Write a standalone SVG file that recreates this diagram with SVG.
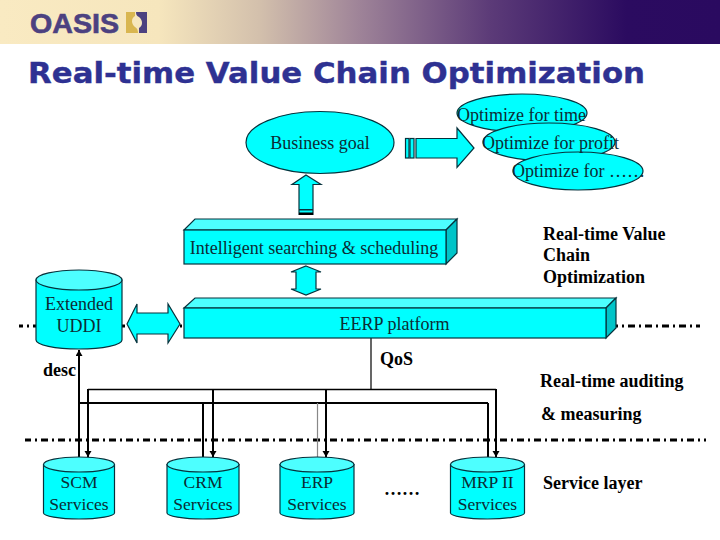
<svg xmlns="http://www.w3.org/2000/svg" width="720" height="540" viewBox="0 0 720 540">
<style>
.s{fill:#00ffff;stroke:#06323c;stroke-width:1.2}
.top{fill:#4dffff;stroke:#06323c;stroke-width:1.2}
.side{fill:#00c4c8;stroke:#06323c;stroke-width:1.2}
.t{font-family:"Liberation Serif","Times New Roman",serif;font-size:18px;fill:#0c2c34}
.c{text-anchor:middle}
.v{font-size:17.5px}
.b{font-family:"Liberation Serif","Times New Roman",serif;font-size:18px;font-weight:bold;fill:#000}
.w{fill:none;stroke:#000;stroke-width:1.5}
.k{fill:none;stroke:#000;stroke-width:2}
.d{fill:none;stroke:#000;stroke-width:3}
</style>
<defs>
<linearGradient id="hd" x1="0" y1="0" x2="720" y2="0" gradientUnits="userSpaceOnUse">
<stop offset="0" stop-color="#f9eac2"/><stop offset="0.22" stop-color="#f6e6bd"/><stop offset="0.36" stop-color="#d3c0ac"/><stop offset="0.5" stop-color="#9e8398"/><stop offset="0.68" stop-color="#5c3b78"/><stop offset="0.87" stop-color="#2b0b60"/><stop offset="1" stop-color="#2a0a60"/>
</linearGradient>
<marker id="ah" markerWidth="7" markerHeight="8" refX="6" refY="3.500" orient="auto" markerUnits="userSpaceOnUse"><path d="M0 0L6 3.500L0 7Z" fill="#000"/></marker>
</defs>
<rect id="header" width="720" height="44" fill="url(#hd)"/>
<g id="logo">
<text x="30" y="33" font-family="'Liberation Sans',Arial,sans-serif" font-size="27" font-weight="bold" fill="#4c4180" textLength="89" lengthAdjust="spacingAndGlyphs" stroke="#4c4180" stroke-width="0.6">OASIS</text>
<path d="M126 12H135V16C131 18 131 24 135 27C137 28 138 30 138 33H126Z" fill="#d9b650"/>
<path d="M147 12H136C136 15 137 16 139 17C143 20 143 26 139 28V33H147Z" fill="#4c4180"/>
</g>
<text id="title" x="28" y="83" font-family="'DejaVu Sans',Arial,sans-serif" font-size="29" font-weight="bold" fill="#2e3192" stroke="#2e3192" stroke-width="0.4" textLength="617" lengthAdjust="spacingAndGlyphs">Real-time Value Chain Optimization</text>

<g id="connectors">
<path class="d" stroke-dasharray="7 4 2 4" stroke-dashoffset="3" d="M19 326H700"/>
<path class="d" stroke-dasharray="7 4 2 4" stroke-dashoffset="1" d="M25 440H706"/>
<path d="M371 338V389" fill="none" stroke="#000" stroke-width="1.2"/>
<path class="w" d="M88 389.500H496"/>
<path class="k" d="M79 403H488"/>
<path class="k" d="M79 457V350" marker-end="url(#ah)"/>
<path class="k" d="M88 389V457" marker-end="url(#ah)"/>
<path class="k" d="M213 389V457" marker-end="url(#ah)"/>
<path class="k" d="M326 389V457" marker-end="url(#ah)"/>
<path class="k" d="M496 389V457" marker-end="url(#ah)"/>
<path class="k" d="M203 403V457"/>
<path d="M317.500 403V457" fill="none" stroke="#888" stroke-width="1.2"/>
<path class="k" d="M488 403V457"/>
</g>

<g id="arrow-right">
<rect class="s" x="405.500" y="138.500" width="3.500" height="19.500"/>
<rect class="s" x="410" y="138.500" width="4" height="19.500"/>
<path class="s" d="M416 138.500H457V128L474 148L457 167.500V158H416Z"/>
</g>
<g id="arrow-up">
<path class="s" d="M306 175L321 184.500H313V214.500H299V184.500H292Z"/>
<rect x="299" y="209" width="14" height="1.500" fill="#06323c"/>
<rect x="299" y="212.500" width="14" height="2.500" fill="#000"/>
</g>
<g id="arrow-updown">
<path class="s" d="M306 266L321 272H316V289H321L306 295L291 289H296V272H291Z"/>
</g>
<g id="arrow-leftright">
<path class="s" d="M127 324L137 304V313H168V304L180 324L168 343V334H137V343Z"/>
</g>

<g id="goal"><ellipse class="s" cx="320" cy="142.500" rx="74" ry="31"/><text class="t c" x="320" y="149">Business goal</text></g>
<g id="opt-time"><ellipse class="s" cx="522" cy="113" rx="65" ry="19"/></g>
<g id="opt-profit"><ellipse class="s" cx="549" cy="142" rx="66" ry="19"/></g>
<g id="opt-other"><ellipse class="s" cx="578" cy="171" rx="65" ry="19"/></g>
<text class="t" x="457" y="121">Optimize for time</text>
<text class="t" x="482" y="149">Optimize for profit</text>
<text class="t" x="512" y="177">Optimize for ……</text>

<g id="searching">
<path class="top" d="M184 230L195 219H457L446 230Z"/>
<path class="side" d="M446 230L457 219V253L446 264Z"/>
<rect class="s" x="184" y="230" width="262" height="34"/>
<text class="t c" x="314" y="254">Intelligent searching &amp; scheduling</text>
</g>
<g id="eerp">
<path class="top" d="M184 308L195 298H616L606 308Z"/>
<path class="side" d="M606 308L616 298V328L606 338Z"/>
<rect class="s" x="184" y="308" width="422" height="30"/>
<text class="t c" x="394.500" y="330">EERP platform</text>
</g>
<g id="uddi">
<path class="s" d="M36 280V340C36 345 55 349 79 349S122 345 122 340V280Z"/>
<ellipse class="top" cx="79" cy="280" rx="43" ry="10"/>
<text class="t c" x="79" y="310">Extended</text><text class="t c" x="79" y="332">UDDI</text>
</g>
<g id="scm">
<path class="s" d="M43.500 464.500V513C43.500 516 59 519 79 519S114.500 516 114.500 513V464.500Z"/>
<ellipse class="top" cx="79" cy="464.500" rx="35.500" ry="7.500"/>
<text class="t v c" x="79" y="488">SCM</text><text class="t v c" x="79" y="510">Services</text>
</g>
<g id="crm">
<path class="s" d="M167 464.500V513C167 516 183 519 203 519S239 516 239 513V464.500Z"/>
<ellipse class="top" cx="203" cy="464.500" rx="36" ry="7.500"/>
<text class="t v c" x="203" y="488">CRM</text><text class="t v c" x="203" y="510">Services</text>
</g>
<g id="erp">
<path class="s" d="M280 464.500V513C280 516 297 519 317 519S354 516 354 513V464.500Z"/>
<ellipse class="top" cx="317" cy="464.500" rx="37" ry="7.500"/>
<text class="t v c" x="317" y="488">ERP</text><text class="t v c" x="317" y="510">Services</text>
</g>
<g id="mrp">
<path class="s" d="M450.500 464.500V513C450.500 516 467 519 487.500 519S524.500 516 524.500 513V464.500Z"/>
<ellipse class="top" cx="487.500" cy="464.500" rx="37" ry="7.500"/>
<text class="t v c" x="487.500" y="488">MRP II</text><text class="t v c" x="487.500" y="510">Services</text>
</g>

<g id="labels">
<text class="b" x="543" y="240">Real-time Value</text>
<text class="b" x="543" y="261">Chain</text>
<text class="b" x="543" y="283">Optimization</text>
<text class="b" x="380" y="365">QoS</text>
<text class="b" x="43" y="376">desc</text>
<text class="b" x="540" y="387">Real-time auditing</text>
<text class="b" x="541" y="420">&amp; measuring</text>
<text class="b" x="543" y="489">Service layer</text>
<text class="b" x="384" y="495">……</text>
</g>
</svg>
